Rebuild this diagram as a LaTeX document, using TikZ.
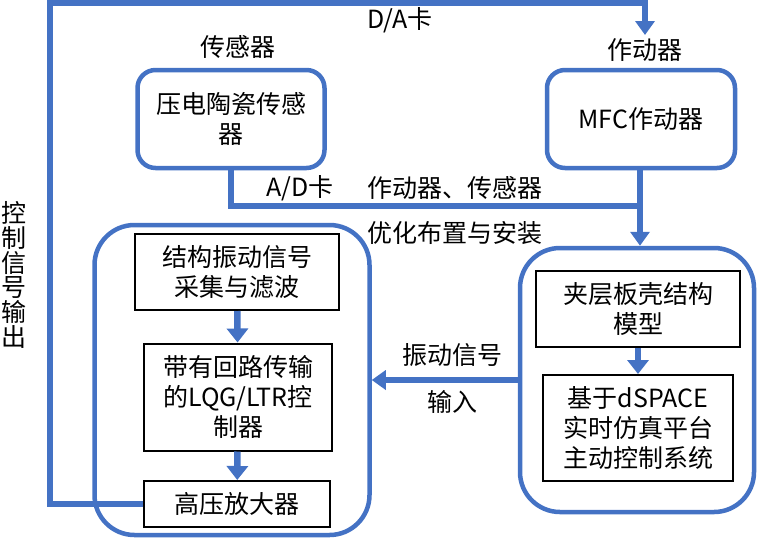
\documentclass[tikz,border=0pt]{standalone}
\usepackage{fontspec}
\setmainfont{Noto Sans CJK SC}
\usetikzlibrary{arrows.meta}
\definecolor{linkblue}{HTML}{4472C4}
\begin{document}
\begin{tikzpicture} [
                x=1pt, y=-1pt,
                every node/.style={font=\fontsize{25}{30}\selectfont},
                roundbox/.style={draw=linkblue,line width=4.5pt,rounded corners=18pt,align=center},
                groupbox/.style={draw=linkblue,line width=4.5pt,rounded corners=40pt},
                stepbox/.style={draw=black,line width=2pt,align=center,inner sep=0pt},
                flow/.style = {draw=linkblue,line width=5.5pt,-{Triangle[width=19pt,length=14pt]}},
                link/.style = {draw=linkblue,line width=5.5pt},
                inflow/.style = {draw=linkblue,line width=6.5pt,-{Triangle[width=21pt,length=14pt]}},
            ]
            \useasboundingbox (0,0) rectangle (760,539);
            % outer boxes
            \node[roundbox,minimum width=187pt,minimum height=98pt] (sensor) at (231,119) {压电陶瓷传感\\器};
            \node[roundbox,minimum width=188pt,minimum height=98pt] (mfc) at (641,119) {MFC作动器};
            \node[groupbox,minimum width=275pt,minimum height=310pt] (ctrl) at (232,380) {};
            \node[groupbox,minimum width=234pt,minimum height=264pt] (plant) at (637,380) {};
            % inner boxes
            \foreach \pos/\w/\h/\name/\txt in {
            {(237,272)/204/76/collect/{结构振动信号\\采集与滤波}},
            {(238,397)/188/107/lqg/{带有回路传输\\的LQG/LTR控\\制器}},
            {(237,504)/186/46/amp/{高压放大器}},
            {(638,309)/204/76/model/{夹层板壳结构\\模型}},
            {(638,428)/190/106/dspace/{基于dSPACE\\实时仿真平台\\主动控制系统}}}
                \node[stepbox,minimum width=\w pt,minimum height=\h pt] (\name) at \pos {\txt};
            % labels
            \node (sensorlabel) at (238,47) {传感器};
            \node (actlabel) at (645,50) {作动器};
            \node (dalabel) at (400,20) {D/A卡};
            \node (adlabel) at (300,188) {A/D卡};
            \node (placelabel) at (455,188) {作动器、传感器};
            \node (installlabel) at (455,233) {优化布置与安装};
            \node (siglabel) at (452,355) {振动信号};
            \node (inlabel) at (452,402) {输入};
            \node[font=\fontsize{25}{24.8}\selectfont,align=center] (outlabel) at (14,275) {控\\制\\信\\号\\输\\出};
            % connectors
            \coordinate (tl) at (50,3);
            \coordinate (tr) at (645,3);
            \coordinate (join) at (640,206);
            \path[flow] (amp.west) -- (amp.west -| tl) -- (tl) -- (tr) -- (actlabel.north);
            \path[link] (sensor.south) |- (join);
            \path[flow] (mfc.south -| join) -- (join |- plant.north);
            \path[flow] (plant.west) -- (ctrl.east);
            \foreach \source/ \dest in {
                    collect/lqg,lqg/amp,model/dspace}
                \path[inflow] (\source) -- (\dest);
        \end{tikzpicture}
\end{document}
